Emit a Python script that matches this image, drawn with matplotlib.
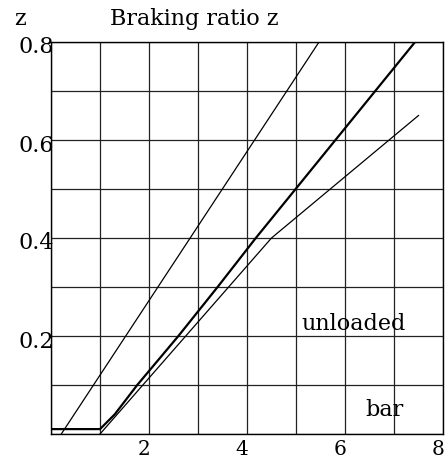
import matplotlib
matplotlib.use("Agg")
import matplotlib.pyplot as plt
from matplotlib.ticker import MultipleLocator
from matplotlib.transforms import ScaledTranslation

# ---- data ----
steep_x = [0.21, 5.47]
steep_z = [0.0, 0.8]

loaded_x = [0.0, 1.0, 1.3, 1.76, 2.6, 3.4, 4.18, 7.43]
loaded_z = [0.01, 0.01, 0.04, 0.10, 0.20, 0.30, 0.40, 0.80]

unloaded_x = [1.0, 4.5, 7.5]
unloaded_z = [0.0, 0.40, 0.65]

xticks = [2, 4, 6, 8]
xtick_labels = ["2", "4", "6", "8"]
yticks = [0.2, 0.4, 0.6, 0.8]
ytick_labels = ["0.2", "0.4", "0.6", "0.8"]

title_text = "Braking ratio z"
ylabel_text = "z"
unloaded_text = "unloaded"
unit_text = "bar"

FONT = "DejaVu Serif"

fig = plt.figure(figsize=(4.48, 4.62), dpi=100)
ax = fig.add_axes([51 / 448, 28 / 462, 392 / 448, 392 / 462])

ax.set_xlim(0, 8)
ax.set_ylim(0, 0.8)

ax.set_xticks(xticks)
ax.set_xticklabels(xtick_labels, fontsize=14.5, family=FONT)
ax.set_yticks(yticks)
ax.set_yticklabels(ytick_labels, fontsize=16, family=FONT)
ax.xaxis.set_minor_locator(MultipleLocator(1))
ax.yaxis.set_minor_locator(MultipleLocator(0.1))
ax.grid(True, which="both", color="#222222", linewidth=0.9)
ax.set_axisbelow(True)
ax.tick_params(which="both", length=0)
ax.tick_params(axis="x", pad=4.5)
ax.tick_params(axis="y", pad=0)

for lab in ax.get_xticklabels():
    lab.set_transform(lab.get_transform() + ScaledTranslation(-5 / 100, 0, fig.dpi_scale_trans))
for lab in ax.get_yticklabels():
    lab.set_transform(lab.get_transform() + ScaledTranslation(3 / 100, -3 / 100, fig.dpi_scale_trans))

ax.plot(steep_x, steep_z, color="black", linewidth=0.9)
ax.plot(unloaded_x, unloaded_z, color="black", linewidth=0.9)
ax.plot(loaded_x, loaded_z, color="black", linewidth=1.6)

for sp in ax.spines.values():
    sp.set_color("black")
    sp.set_linewidth(1.0)

fig.text(20 / 448, 1 - 25 / 462, ylabel_text, fontsize=16, family=FONT,
         ha="center", va="baseline")
fig.text(110 / 448, 1 - 25 / 462, title_text, fontsize=16, family=FONT,
         ha="left", va="baseline")

ax.text(5.12, 0.212, unloaded_text, fontsize=16, family=FONT, ha="left", va="baseline")
ax.text(6.41, 0.037, unit_text, fontsize=16, family=FONT, ha="left", va="baseline")

fig.savefig("out.png", dpi=100)
